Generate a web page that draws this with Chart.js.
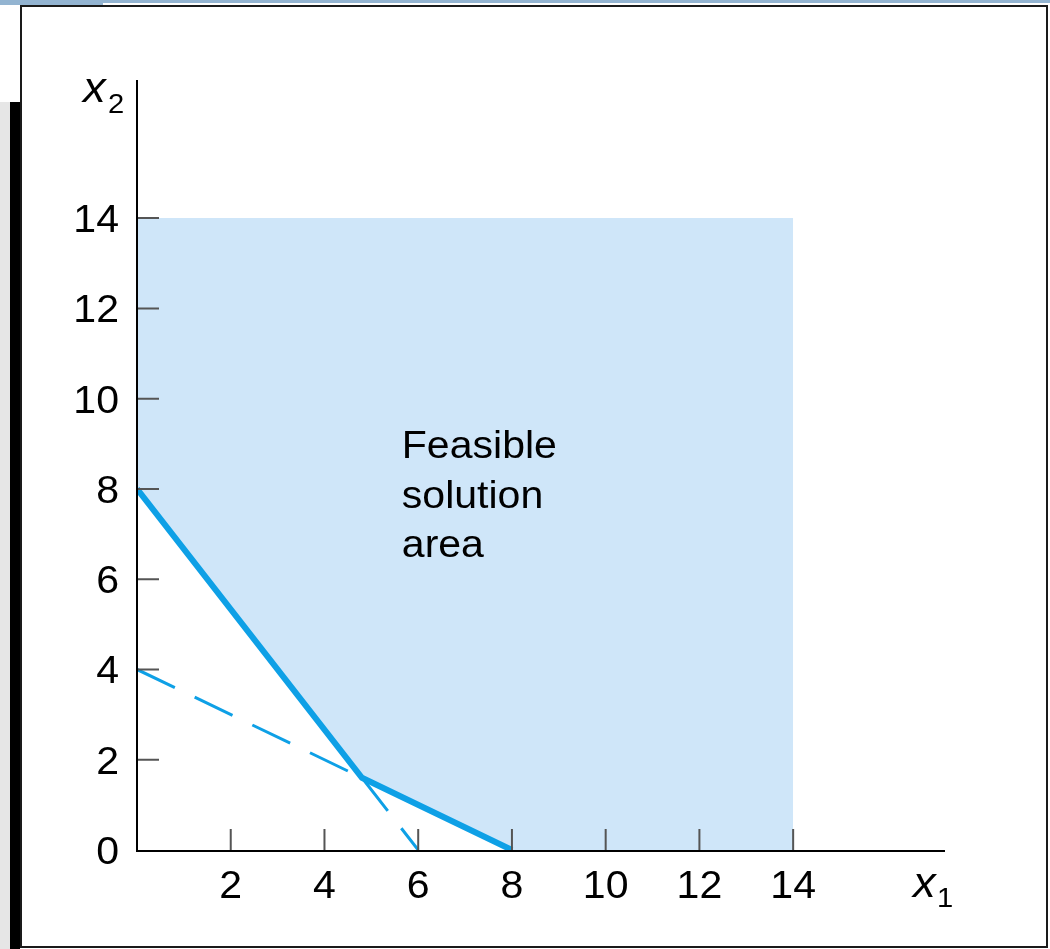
<!DOCTYPE html>
<html>
<head>
<meta charset="utf-8">
<script src="https://cdn.jsdelivr.net/npm/chart.js@4/dist/chart.umd.min.js"></script>
<style>
  html, body { margin: 0; padding: 0; background: #fff; }
  #page { position: relative; width: 1050px; height: 949px; overflow: hidden; }
  .bar-top { position: absolute; left: 0; top: 0; width: 1050px; height: 3px; background: #93b4d1; }
  .bar-top-left { position: absolute; left: 0; top: 0; width: 103px; height: 5px; background: #93b4d1; }
  .side-grey { position: absolute; left: 0; top: 102px; width: 10px; height: 847px; background: #e6e6e6; }
  .side-black { position: absolute; left: 10px; top: 102px; width: 10px; height: 847px; background: #000; }
  .panel { position: absolute; left: 20px; top: 5px; width: 1024px; height: 939px; border: 2px solid #1a1a1a; background: #fff; }
  canvas { position: absolute; left: 0; top: 0; }
</style>
</head>
<body>
<div id="page">
  <div class="bar-top"></div>
  <div class="bar-top-left"></div>
  <div class="side-grey"></div>
  <div class="side-black"></div>
  <div class="panel"></div>
  <canvas id="myChart" width="1050" height="949"></canvas>
</div>
<script>
// constraint lines: 4x1 + 3x2 = 24 and x1 + 2x2 = 8
const boundary = [{x: 0, y: 8}, {x: 4.8, y: 1.6}, {x: 8, y: 0}];
const regionLower = [{x: 0, y: 8}, {x: 4.8, y: 1.6}, {x: 8, y: 0}, {x: 14, y: 0}];
const regionUpper = [{x: 0, y: 14}, {x: 14, y: 14}];
const dashedA = [{x: 0, y: 4}, {x: 4.8, y: 1.6}];
const dashedB = [{x: 4.8, y: 1.6}, {x: 6, y: 0}];

const xTicks = [2, 4, 6, 8, 10, 12, 14];
const yTicks = [0, 2, 4, 6, 8, 10, 12, 14];
const regionText = ["Feasible", "solution", "area"];

const blue = "#0ea0e6";
const fillBlue = "#cfe6f9";

const axesPlugin = {
    id: 'axes',
    afterDraw(chart) {
        const ctx = chart.ctx;
        const xs = chart.scales.x, ys = chart.scales.y;
        const area = chart.chartArea;
        const x0 = xs.getPixelForValue(0), y0 = ys.getPixelForValue(0);
        const stretch = 1.08;

        function text(str, x, y, font, align) {
            ctx.save();
            ctx.font = font;
            ctx.textAlign = align;
            ctx.textBaseline = 'alphabetic';
            ctx.fillStyle = '#000';
            ctx.translate(x, y);
            ctx.scale(stretch, 1);
            ctx.fillText(str, 0, 0);
            ctx.restore();
        }

        // tick marks
        ctx.save();
        ctx.strokeStyle = '#555';
        ctx.lineWidth = 2;
        ctx.beginPath();
        xTicks.forEach(v => {
            const px = xs.getPixelForValue(v);
            ctx.moveTo(px, y0);
            ctx.lineTo(px, y0 - 21);
        });
        yTicks.filter(v => v > 0).forEach(v => {
            const py = ys.getPixelForValue(v);
            ctx.moveTo(x0, py);
            ctx.lineTo(x0 + 22, py);
        });
        ctx.stroke();

        // axes
        ctx.strokeStyle = '#000';
        ctx.lineWidth = 2;
        ctx.beginPath();
        ctx.moveTo(x0, area.top);
        ctx.lineTo(x0, y0 + 1);
        ctx.lineTo(area.right, y0 + 1);
        ctx.stroke();
        ctx.restore();

        const tickFont = '38px "Liberation Sans", Arial, sans-serif';
        xTicks.forEach(v => {
            text(String(v), xs.getPixelForValue(v), y0 + 48, tickFont, 'center');
        });
        yTicks.forEach(v => {
            text(String(v), x0 - 18, ys.getPixelForValue(v) + 14, tickFont, 'right');
        });

        // axis titles
        const italic = 'italic 42px "Liberation Sans", Arial, sans-serif';
        const sub = '27px "Liberation Sans", Arial, sans-serif';
        text('x', area.right - 32, y0 + 47, italic, 'left');
        text('1', area.right - 8, y0 + 57, sub, 'left');
        text('x', x0 - 54, area.top + 22, italic, 'left');
        text('2', x0 - 29, area.top + 33, sub, 'left');

        // region label
        const lx = xs.getPixelForValue(5.65), ly = ys.getPixelForValue(8.68);
        regionText.forEach((s, i) => {
            text(s, lx, ly + i * 49.5, tickFont, 'left');
        });
    }
};

const ctx = document.getElementById('myChart');
let myChart = new Chart(ctx, {
    type: 'line',
    data: {
        datasets: [
            {
                data: regionLower,
                borderWidth: 0,
                pointRadius: 0,
                fill: '+1',
                backgroundColor: fillBlue,
                order: 5,
            },
            {
                data: regionUpper,
                borderWidth: 0,
                pointRadius: 0,
                fill: false,
                order: 4,
            },
            {
                data: dashedA,
                borderColor: blue,
                borderWidth: 3,
                borderDash: [42, 22],
                pointRadius: 0,
                fill: false,
                order: 3,
            },
            {
                data: dashedB,
                borderColor: blue,
                borderWidth: 3,
                borderDash: [42, 22],
                pointRadius: 0,
                fill: false,
                order: 2,
            },
            {
                data: boundary,
                borderColor: blue,
                borderWidth: 6,
                borderJoinStyle: 'miter',
                pointRadius: 0,
                fill: false,
                order: 1,
            }
        ]
    },
    options: {
        responsive: false,
        animation: false,
        devicePixelRatio: 1,
        layout: {padding: {left: 137, right: 105, top: 80, bottom: 99}},
        elements: {line: {tension: 0}},
        scales: {
            x: {type: 'linear', min: 0, max: 17.24, display: false},
            y: {type: 'linear', min: 0, max: 17.06, display: false}
        },
        plugins: {
            legend: {display: false},
            tooltip: {enabled: false},
            filler: {drawTime: 'beforeDatasetsDraw'}
        }
    },
    plugins: [axesPlugin]
});
</script>
</body>
</html>
